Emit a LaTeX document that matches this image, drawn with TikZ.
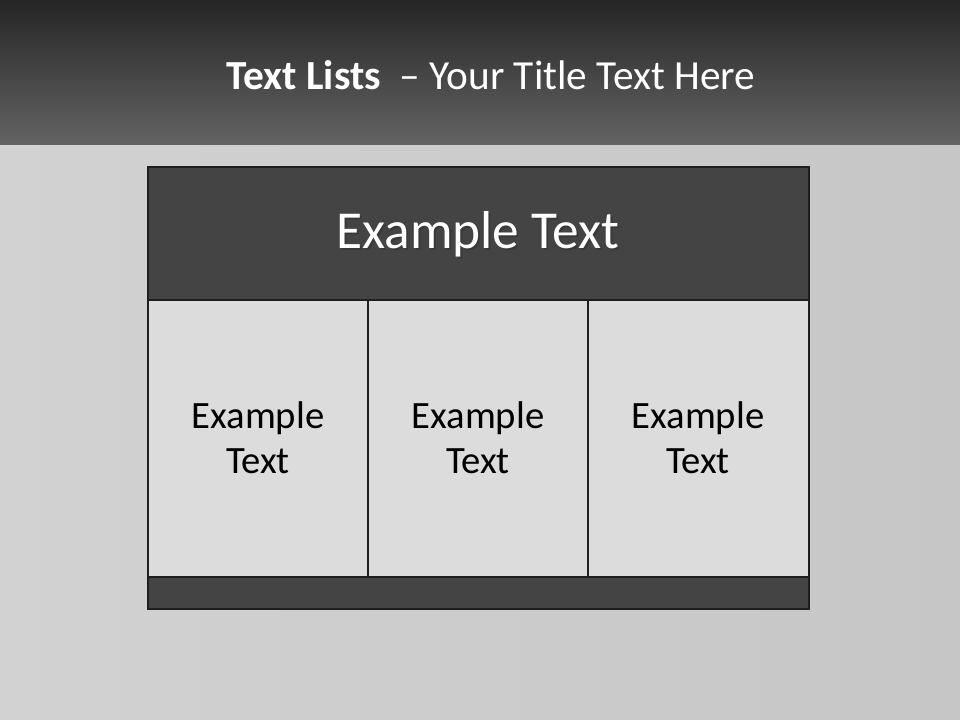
\documentclass[tikz,border=0pt]{standalone}
\usepackage{fontspec}
\setmainfont{Carlito}
\definecolor{bandtop}{HTML}{252525}
\definecolor{bandbot}{HTML}{646464}
\definecolor{bgl}{HTML}{D2D2D2}
\definecolor{bgd}{HTML}{C6C6C6}
\definecolor{darkfill}{HTML}{444444}
\definecolor{cellfill}{HTML}{DCDCDC}
\definecolor{edge}{HTML}{1E1E1E}
\begin{document}
\begin{tikzpicture}[x=0.75pt,y=-0.75pt,
  boxline/.style={draw=edge,line width=2.2pt},
  celltext/.style={font=\fontsize{29}{34}\selectfont,text=black,align=center},
  headtext/.style={font=\fontsize{40}{48}\selectfont,text=white}]
\useasboundingbox (0,0) rectangle (960,720);
% background
\shade[left color=bgl,right color=bgd] (0,145) rectangle (960,720);
\shade[top color=bandtop,bottom color=bandbot] (0,0) rectangle (960,145);
% title
\node[font=\fontsize{31}{37}\selectfont,text=white] (title) at (491,75) {\textbf{Text Lists}\ \ – Your Title Text Here};
% header
\path[fill=darkfill] (148,167) rectangle (809,300);
\path[fill=cellfill] (148,300) rectangle (809,577);
\path[fill=darkfill] (148,577) rectangle (809,609);
\draw[boxline] (148,167) rectangle (809,609);
\draw[boxline] (148,300) -- (809,300);
\draw[boxline] (148,577) -- (809,577);
\draw[boxline] (368,300) -- (368,577);
\draw[boxline] (588,300) -- (588,577);
\node[headtext,text=black!80,opacity=0.6] at (480,236) {Example Text};
\node[headtext] (head) at (478,234) {Example Text};
\node[celltext] (c1) at (258,438) {Example\\Text};
\node[celltext] (c2) at (478,438) {Example\\Text};
\node[celltext] (c3) at (698,438) {Example\\Text};
\end{tikzpicture}
\end{document}
